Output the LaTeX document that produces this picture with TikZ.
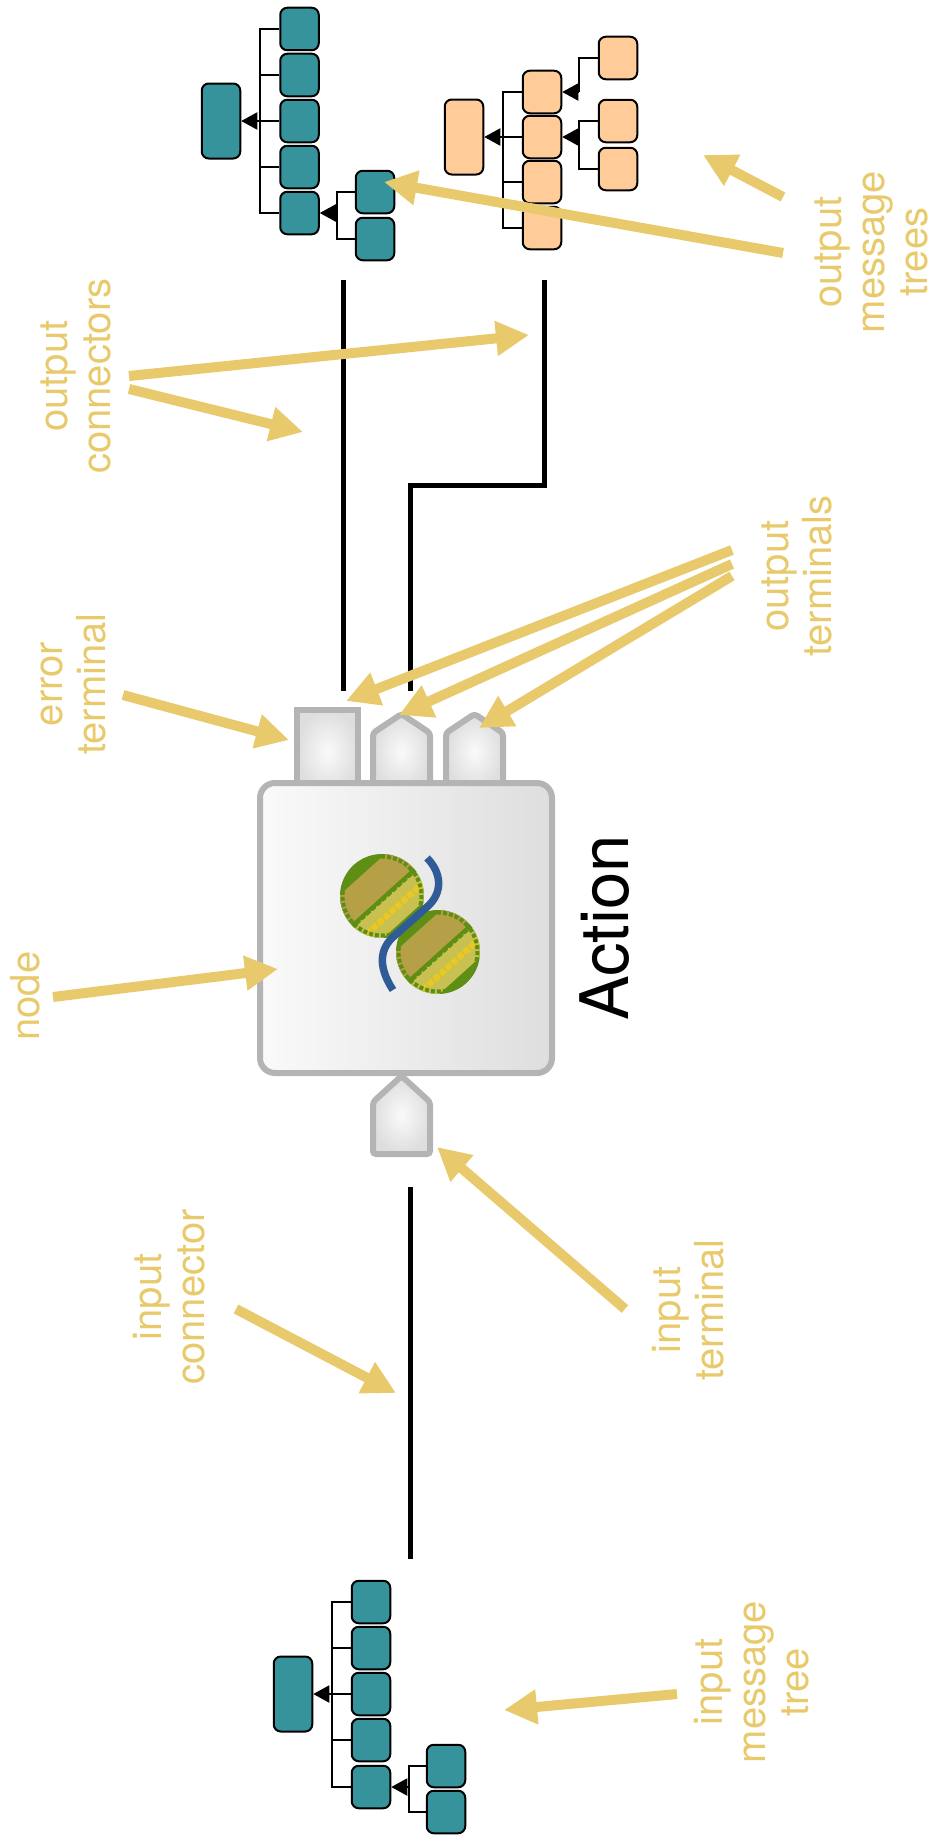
\documentclass[tikz,border=0pt]{standalone}
\usepackage{fontspec}
\setmainfont{TeX Gyre Heros}
\usetikzlibrary{arrows.meta}

\definecolor{tealbox}{HTML}{36939C}
\definecolor{orangebox}{HTML}{FFCC99}
\definecolor{callout}{HTML}{E8CA6C}
\definecolor{termgray}{HTML}{B4B4B4}
\definecolor{leafgreen}{HTML}{5E8E14}
\definecolor{leafkhaki}{HTML}{B5A048}
\definecolor{leaflight}{HTML}{C8C050}
\definecolor{leafyellow}{HTML}{EAC820}
\definecolor{strandblue}{HTML}{2F5C96}

\tikzset{
    treebox/.style={rectangle, rounded corners=7pt, draw=black, line width=2pt, minimum width=38.5pt, minimum height=42.5pt, inner sep=0pt},
    treeroot/.style={treebox, minimum height=75pt},
    tealnode/.style={fill=tealbox},
    orangenode/.style={fill=orangebox},
    treelink/.style={draw=black, line width=2pt},
    treearrow/.style={treelink, -{Triangle[length=16pt, width=17pt]}},
    wire/.style={draw=black, line width=5pt},
    note/.style={-{Triangle[length=33pt, width=33pt]}, draw=callout, line width=10pt},
    notetext/.style={text=callout, rotate=90, align=center, inner sep=0pt, font=\fontsize{40}{43}\selectfont},
    metal/.style={inner color=white!98!black, outer color=white!87!black, draw=termgray, line width=6pt, rounded corners=3pt},
    metalbody/.style={left color=white!98!black, right color=white!87!black, draw=termgray, line width=6pt},
    strand/.style={draw=strandblue, line width=7.5pt}
}

\begin{document}
\begin{tikzpicture}[x=1pt, y=-1pt]
    \useasboundingbox (0, 0) rectangle (932, 1844);

    % output tree on the error side
    \node[treeroot, tealnode] (ap) at (221, 121) {};
    \node[treebox, tealnode] (a1) at (299.5, 29) {};
    \node[treebox, tealnode] (a2) at (299.5, 75) {};
    \node[treebox, tealnode] (a3) at (299.5, 121) {};
    \node[treebox, tealnode] (a4) at (299.5, 167) {};
    \node[treebox, tealnode] (a5) at (299.5, 213) {};
    \node[treebox, tealnode] (a6) at (375, 192) {};
    \node[treebox, tealnode] (a7) at (375, 239) {};
    \coordinate (abus) at (260, 121);
    \coordinate (asub) at (337, 213);

    \draw[treelink] (a1.west) -| (abus) |- (a5.west);
    \draw[treelink] (a2.west) -- (a2.west -| abus);
    \draw[treelink] (a4.west) -- (a4.west -| abus);
    \draw[treearrow] (a3.west) -- (ap.east);
    \draw[treelink] (a6.west) -| (asub) |- (a7.west);
    \draw[treearrow] (asub) -- (a5.east);

    % output tree in orange
    \node[treeroot, orangenode] (op) at (464, 137) {};
    \node[treebox, orangenode] (o1) at (542, 92) {};
    \node[treebox, orangenode] (o2) at (542, 137) {};
    \node[treebox, orangenode] (o3) at (542, 182) {};
    \node[treebox, orangenode] (o4) at (542, 228) {};
    \node[treebox, orangenode] (o5) at (618, 58) {};
    \node[treebox, orangenode] (o6) at (618, 121) {};
    \node[treebox, orangenode] (o7) at (618, 169) {};
    \coordinate (obus) at (503, 137);
    \coordinate (osub) at (579, 137);
    \coordinate (otop) at (579, 92);

    \draw[treelink] (o1.west) -| (obus) |- (o4.west);
    \draw[treelink] (o3.west) -- (o3.west -| obus);
    \draw[treearrow] (o2.west) -- (op.east);
    \draw[treelink] (o5.west) -| (otop);
    \draw[treearrow] (otop) -- (o1.east);
    \draw[treelink] (o6.west) -| (osub) |- (o7.west);
    \draw[treearrow] (osub) -- (o2.east);

    % input tree
    \node[treeroot, tealnode] (ip) at (293, 1694) {};
    \node[treebox, tealnode] (i1) at (371, 1602) {};
    \node[treebox, tealnode] (i2) at (371, 1648) {};
    \node[treebox, tealnode] (i3) at (371, 1694) {};
    \node[treebox, tealnode] (i4) at (371, 1740) {};
    \node[treebox, tealnode] (i5) at (371, 1787) {};
    \node[treebox, tealnode] (i6) at (446, 1766) {};
    \node[treebox, tealnode] (i7) at (446, 1812) {};
    \coordinate (ibus) at (332, 1694);
    \coordinate (isub) at (409, 1787);

    \draw[treelink] (i1.west) -| (ibus) |- (i5.west);
    \draw[treelink] (i2.west) -- (i2.west -| ibus);
    \draw[treelink] (i4.west) -- (i4.west -| ibus);
    \draw[treearrow] (i3.west) -- (ip.east);
    \draw[treelink] (i6.west) -| (isub) |- (i7.west);
    \draw[treearrow] (isub) -- (i5.east);

    % connectors
    \coordinate (w1a) at (343, 280);
    \coordinate (w1b) at (343, 691);
    \coordinate (w2a) at (544, 280);
    \coordinate (w2b) at (544, 485);
    \coordinate (w2c) at (410, 485);
    \coordinate (w2d) at (410, 691);
    \coordinate (w3a) at (410, 1187);
    \coordinate (w3b) at (410, 1559);
    \draw[wire] (w1a) -- (w1b);
    \draw[wire, line join=miter] (w2a) -- (w2b) -- (w2c) -- (w2d);
    \draw[wire] (w3a) -- (w3b);

    % terminals and node
    \node[metal, rounded corners=0pt, rectangle, minimum width=61pt, minimum height=84pt, inner sep=0pt] (errterm) at (327.5, 752) {};
    \path[metal] (373, 790) -- (373, 733) -- (401.5, 714) -- (430, 733) -- (430, 790) -- cycle;
    \path[metal] (446, 790) -- (446, 733) -- (474.5, 714) -- (503, 733) -- (503, 790) -- cycle;
    \path[metal] (373, 1154) -- (373, 1102) -- (401.5, 1076) -- (430, 1102) -- (430, 1154) -- cycle;
    \node[metalbody, rectangle, rounded corners=15pt, minimum width=292pt, minimum height=290pt, inner sep=0pt] (action) at (406, 928) {};

    % icon on the node
    \foreach \cx/\cy in {382/896, 438/952} {
        \begin{scope}[shift={(\cx, \cy)}, rotate=42]
            \clip (0, 0) circle (42pt);
            \fill[leafgreen] (-45, -45) rectangle (45, 45);
            \fill[leafkhaki] (-45, -29) rectangle (45, 0);
            \fill[leaflight] (-45, 4) rectangle (45, 32);
            \draw[leafgreen, line width=4pt, dash pattern=on 5pt off 2pt] (-45, 3) -- (45, 3);
            \draw[leafyellow, line width=6pt, dash pattern=on 6pt off 2pt] (-45, 18) -- (45, 18);
            \draw[leafgreen, line width=4pt, dash pattern=on 4pt off 2pt] (0, 0) circle (39.5pt);
        \end{scope}
    }
    \draw[strand] (427, 858) .. controls (441, 872) and (444, 892) .. (427, 907) -- (392, 938) .. controls (378, 952) and (380, 970) .. (393, 990);

    % callouts
    \coordinate (n1a) at (783, 197);
    \coordinate (n1b) at (703, 155);
    \coordinate (n2a) at (783, 253);
    \coordinate (n2b) at (384, 182);
    \coordinate (n3a) at (129, 376);
    \coordinate (n3b) at (529, 335);
    \coordinate (n4a) at (129, 389);
    \coordinate (n4b) at (303, 432);
    \coordinate (n5a) at (732, 550);
    \coordinate (n5b) at (346, 701);
    \coordinate (n6a) at (732, 564);
    \coordinate (n6b) at (399, 715);
    \coordinate (n7a) at (732, 576);
    \coordinate (n7b) at (479, 728);
    \coordinate (n8a) at (123, 695);
    \coordinate (n8b) at (289, 740);
    \coordinate (n9a) at (53, 997);
    \coordinate (n9b) at (278, 969);
    \coordinate (n10a) at (625, 1309);
    \coordinate (n10b) at (437, 1147);
    \coordinate (n11a) at (236, 1309);
    \coordinate (n11b) at (396, 1393);
    \coordinate (n12a) at (677, 1694);
    \coordinate (n12b) at (504, 1710);
    \draw[note] (n1a) -- (n1b);
    \draw[note] (n2a) -- (n2b);
    \draw[note] (n3a) -- (n3b);
    \draw[note] (n4a) -- (n4b);
    \draw[note] (n5a) -- (n5b);
    \draw[note] (n6a) -- (n6b);
    \draw[note] (n7a) -- (n7b);
    \draw[note] (n8a) -- (n8b);
    \draw[note] (n9a) -- (n9b);
    \draw[note] (n10a) -- (n10b);
    \draw[note] (n11a) -- (n11b);
    \draw[note] (n12a) -- (n12b);

    % labels
    \node[rotate=90, inner sep=0pt, font=\fontsize{67}{72}\selectfont] (actionlabel) at (605, 928) {Action};
    \node[notetext] (outtrees) at (871, 252) {output\\message\\trees};
    \node[notetext] (outconn) at (76, 376) {output\\connectors};
    \node[notetext] (outterm) at (797, 576) {output\\terminals};
    \node[notetext] (errlabel) at (74, 684) {error\\terminal};
    \node[notetext] (nodelabel) at (25, 996) {node};
    \node[notetext] (inconn) at (169, 1297) {input\\connector};
    \node[notetext] (interm) at (688, 1310) {input\\terminal};
    \node[notetext] (intree) at (752, 1682) {input\\message\\tree};
\end{tikzpicture}
\end{document}
